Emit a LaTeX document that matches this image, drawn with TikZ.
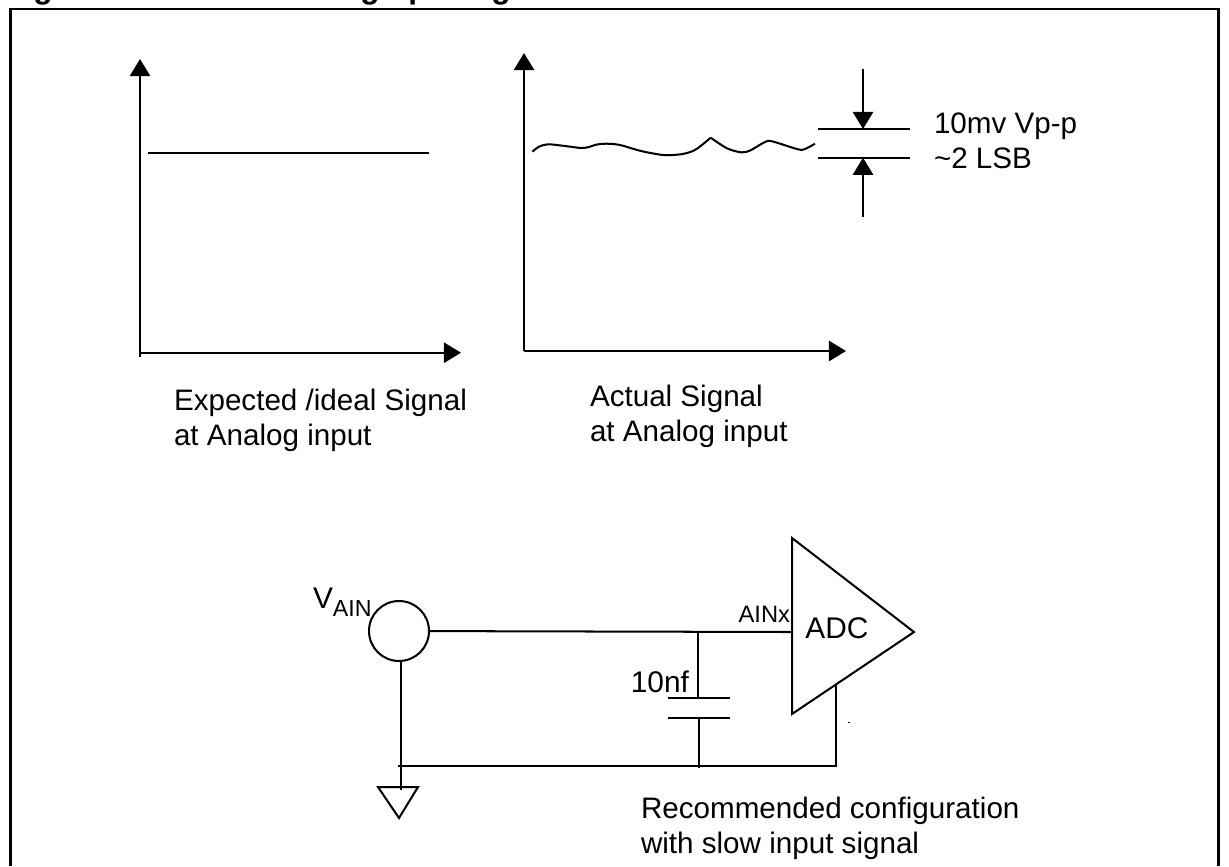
\documentclass[tikz,border=0pt]{standalone}
\usepackage{fontspec}
\setmainfont{Liberation Sans}
\usetikzlibrary{arrows.meta}
\tikzset{
  sig/.style={-{Triangle[length=9.8pt,width=11.6pt]}},
  lab/.style={anchor=base west,align=left,inner sep=0pt,font=\fontsize{16.85}{19.85}\selectfont},
  cut/.style={anchor=base,inner sep=0pt,font=\bfseries\fontsize{18}{20}\selectfont},
}
\begin{document}
\begin{tikzpicture}[x=0.02cm, y=-0.02cm, line width = 1.15pt]
\useasboundingbox (0,0) rectangle (1229,866);

\begin{scope}
\clip (0,0) rectangle (1229,866);
\node [cut] (g1) at (43,-2) {g};
\node [cut] (g2) at (370,-2) {g};
\node [cut] (p1) at (418,-2) {p};
\node [cut] (g3) at (501,-2) {g};
\end{scope}

\draw [line width=1.4pt] (10.3,866)--(10.3,9)--(1218.7,9)--(1218.7,866);

% ideal signal
\coordinate (ia) at (140,352.7);
\draw [sig] (140,357)--(140,59);
\draw [sig] (ia)--(461,352.7);
\draw (148,153)--(429,153);
\node [lab] (ideal) at (173,445) {Expected /ideal Signal\\at Analog input};

% actual signal
\coordinate (aa) at (524,351);
\draw [sig] (aa)--(524,53);
\draw [sig] (aa)--(846,351);
\draw plot [smooth,tension=0.5] coordinates {(532.4,151.7) (539,146.7) (548,144.3) (565,146) (581,148) (589,147) (596,144.7) (606.5,143.7) (620,145) (641,151) (663.4,155) (680.7,154.3) (693,151) (701,145.7) (710.7,137.7)};
\draw plot [smooth,tension=0.5] coordinates {(710.7,137.7) (727,148.3) (741,152.3) (749.7,150.7) (765,142) (772,141.3) (798,149.3) (805,149) (815,143.7)};

\draw (818,129)--(910,129);
\draw (818,157.7)--(910,157.7);
\draw [sig] (863,69)--(863,129);
\draw [sig] (863,217)--(863,157.7);
\node [lab] (swing) at (933,168) {10mv Vp-p\\\textasciitilde2 LSB};
\node [lab] (actual) at (589,441) {Actual Signal\\at Analog input};

% circuit
\node [circle,draw,inner sep=0pt,minimum size=1.2cm] (vain) at (399,631) {};
\node [anchor=base west,inner sep=0pt,font=\fontsize{17}{20}\selectfont] (vlab) at (312,608) {V\raisebox{-5pt}{\fontsize{13.2}{14}\selectfont AIN}};
\coordinate (a) at (792,632);
\coordinate (j) at (698,632);
\coordinate (b) at (792,714);
\coordinate (t) at (792,538);
\coordinate (o) at (914,632);
\draw (t)--(o)--(b)--cycle;
\node [font=\fontsize{17}{20}\selectfont,inner sep=0pt] (adc) at (837,628) {ADC};
\node [anchor=base east,inner sep=0pt,font=\fontsize{13.5}{14}\selectfont] (ainx) at (791,622) {AINx};
\draw (vain)--(a);

\coordinate (c1) at (698,698);
\coordinate (c2) at (699,718);
\coordinate (c3) at (699,768);
\draw (j)--(c1);
\draw (668,698)--(730,698);
\draw (668,718)--(730,718);
\draw (c2)--(c3);
\node [anchor=base east,inner sep=0pt,font=\fontsize{17}{20}\selectfont] (cap) at (690,692) {10nf};

\coordinate (g) at (401,660);
\coordinate (gb) at (401,790);
\draw (398,766)--(835.5,766)--(835.5,685);
\draw (g)--(gb);
\draw (378,787)--(418,787)--(399,818)--cycle;
\fill (848,721.5) rectangle (850,722.5);
\node [lab] (rec) at (640,853) {Recommended configuration\\with slow input signal};
\end{tikzpicture}
\end{document}
